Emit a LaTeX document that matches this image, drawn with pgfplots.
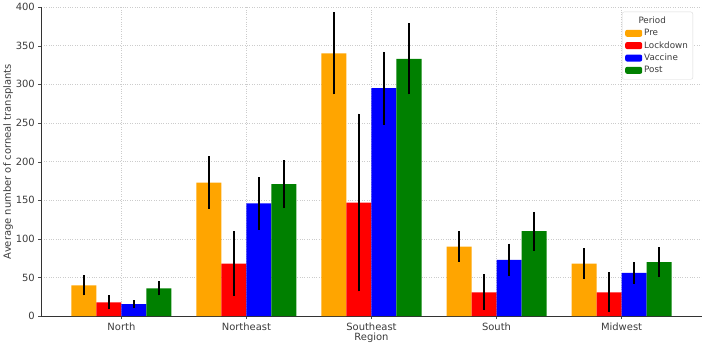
\documentclass[border=0pt]{standalone}
\usepackage{pgfplots}
\pgfplotsset{compat=1.18}
\usepackage{fontspec}
\setmainfont{DejaVu Sans}
\definecolor{mplorange}{RGB}{255,165,0}
\definecolor{mplred}{RGB}{255,0,0}
\definecolor{mplblue}{RGB}{0,0,255}
\definecolor{mplgreen}{RGB}{0,128,0}
\definecolor{txt}{RGB}{60,60,60}
\begin{document}
\begin{tikzpicture}
\begin{axis}[
  /pgf/number format/assume math mode=true,
  scale only axis,
  width=660bp, height=309bp,
  xmin=-0.64, xmax=4.64,
  ymin=0, ymax=400,
  ytick={0,50,...,400},
  xtick={0,1,2,3,4},
  xticklabels={North,Northeast,Southeast,South,Midwest},
  axis x line*=bottom, axis y line*=left,
  axis line style={black!80, line width=0.8pt},
  tick align=outside, major tick length=3bp,
  tick style={black!70},
  grid=major,
  major grid style={dotted, black!20, line width=0.7pt},
  ticklabel style={font=\fontsize{10}{12}\selectfont, text=txt},
  xlabel={Region}, ylabel={Average number of corneal transplants},
  label style={font=\fontsize{10}{12}\selectfont, text=txt},
  xlabel style={yshift=4bp},
  ylabel style={yshift=-4bp},
  bar width=0.2,
  ybar,
  error bars/y dir=both, error bars/y explicit, error bars/error mark=none,
  error bars/error bar style={line width=1.4pt, black},
  legend style={at={(0.987,0.985)}, anchor=north east,
    font=\fontsize{8.8}{10.5}\selectfont, text=txt,
    draw=black!15, rounded corners=2pt, row sep=0.3pt,
    inner sep=3pt},
  legend cell align=left,
  legend image code/.code={\fill[#1] (0bp,-3.5bp) rectangle (17bp,3.5bp);},
]
\addlegendimage{empty legend}
\addlegendentry{\hspace{-0.2cm}Period}
\addplot[fill=mplorange, draw=none, bar shift=-0.3] coordinates {
 (0,40) +- (0,13) (1,173) +- (0,34) (2,340) +- (0,53) (3,90) +- (0,20) (4,68) +- (0,20)};
\addlegendentry{Pre}
\addplot[fill=mplred, draw=none, bar shift=-0.1] coordinates {
 (0,18) +- (0,9) (1,68) +- (0,42) (2,147) +- (0,115) (3,31) +- (0,23) (4,31) +- (0,26)};
\addlegendentry{Lockdown}
\addplot[fill=mplblue, draw=none, bar shift=0.1] coordinates {
 (0,15.5) +- (0,5) (1,146) +- (0,34) (2,295) +- (0,47) (3,73) +- (0,21) (4,56) +- (0,14)};
\addlegendentry{Vaccine}
\addplot[fill=mplgreen, draw=none, bar shift=0.3] coordinates {
 (0,36) +- (0,9) (1,171) +- (0,31) (2,333) +- (0,46) (3,110) +- (0,25) (4,70) +- (0,19)};
\addlegendentry{Post}
\end{axis}
\end{tikzpicture}
\end{document}
